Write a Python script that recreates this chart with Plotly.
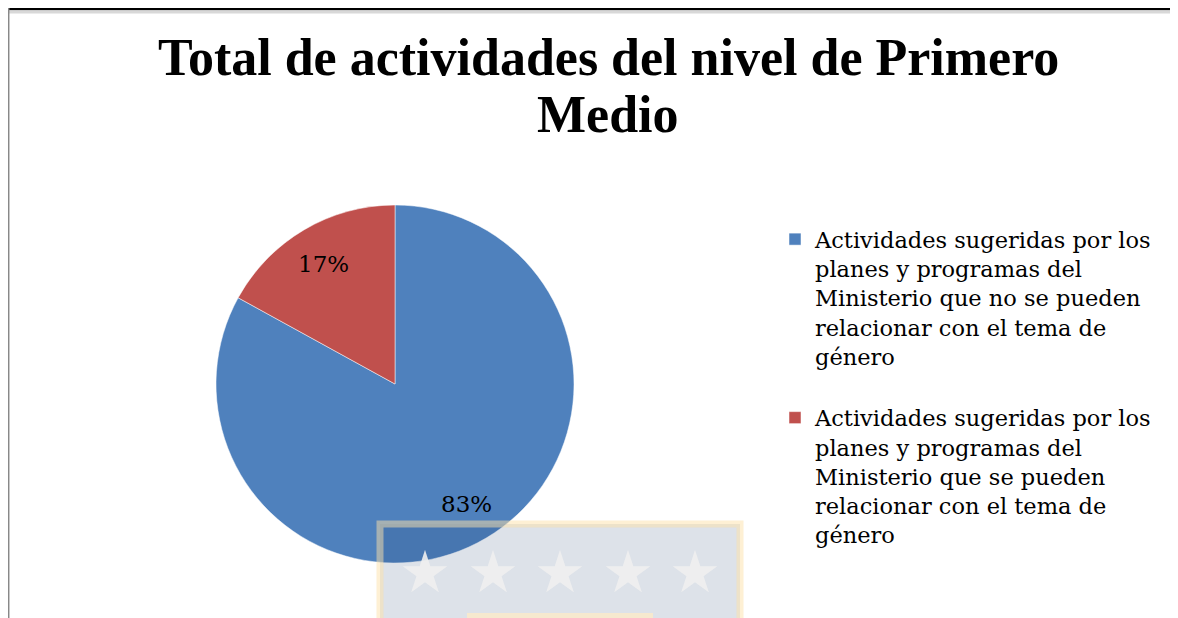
import math
import plotly.graph_objects as go

title_lines = ["Total de actividades del nivel de Primero", "Medio"]
labels = [
    "Actividades sugeridas por los<br>planes y programas del<br>Ministerio que no se pueden<br>relacionar con el tema de<br>género<br>",
    "Actividades sugeridas por los<br>planes y programas del<br>Ministerio que se pueden<br>relacionar con el tema de<br>género",
]
values = [83, 17]
colors = ["#4F81BD", "#C0504D"]

# the page adds an 8px body margin, so work in page pixels and convert
W, H = 1170, 610
OFF = 8


def px(x):
    return (x - OFF) / W


def py(y):
    return 1 - (y - OFF) / H


serif = "DejaVu Serif"

# pie geometry in page pixels
cx, cy, R = 395, 384, 179

fig = go.Figure()
fig.add_trace(
    go.Pie(
        labels=labels,
        values=values,
        marker=dict(colors=colors, line=dict(color="white", width=0.5)),
        sort=False,
        direction="clockwise",
        rotation=0,
        textinfo="none",
        hoverinfo="label+percent",
        domain=dict(x=[px(cx - R), px(cx + R)], y=[py(cy + R), py(cy - R)]),
    )
)

# percent labels, placed along each slice's mid angle like the Excel layout
total = sum(values)
start = 0.0
for v in values:
    mid = (start + v / 2) / total * 2 * math.pi
    start += v
    lx = cx + 0.78 * R * math.sin(mid)
    ly = cy - 0.78 * R * math.cos(mid)
    fig.add_annotation(text=f"{round(100 * v / total)}%", xref="paper", yref="paper",
                       x=px(lx), y=py(ly), xanchor="center", yanchor="middle", showarrow=False,
                       font=dict(family=serif, size=23, color="black"))

# title
for i, line in enumerate(title_lines):
    fig.add_annotation(text=f"<b>{line}</b>", xref="paper", yref="paper",
                       x=px(608), y=py(57 + 57 * i), xanchor="center", yanchor="middle",
                       showarrow=False,
                       font=dict(family="Liberation Serif", size=52, color="black"))

# chart frame (top and left edges)
fig.add_shape(type="line", xref="paper", yref="paper", x0=0, x1=1, y0=1 - 1 / H, y1=1 - 1 / H,
              line=dict(color="black", width=2.5))
fig.add_shape(type="line", xref="paper", yref="paper", x0=0, x1=1, y0=1 - 4 / H, y1=1 - 4 / H,
              line=dict(color="#d8d8d8", width=3))
fig.add_shape(type="line", xref="paper", yref="paper", x0=0.7 / W, x1=0.7 / W, y0=0, y1=1,
              line=dict(color="#888888", width=1.5))

# watermark logo in the page behind the chart
fig.add_shape(type="rect", xref="paper", yref="paper", layer="above",
              x0=px(380), x1=px(740), y0=-0.05, y1=py(524),
              fillcolor="rgba(30,60,110,0.15)", line=dict(color="rgba(253,225,170,0.5)", width=7))
fig.add_shape(type="rect", xref="paper", yref="paper", layer="above",
              x0=px(467), x1=px(653), y0=-0.05, y1=py(613),
              fillcolor="rgba(253,235,200,0.8)", line=dict(width=0))
for i in range(5):
    fig.add_annotation(text="★", xref="paper", yref="paper", x=px(425 + 67.5 * i), y=py(608),
                       xanchor="center", showarrow=False,
                       font=dict(family="DejaVu Sans", size=58, color="rgba(240,240,240,0.9)"))

fig.update_layout(
    width=W,
    height=H,
    margin=dict(l=0, r=0, t=0, b=0),
    paper_bgcolor="white",
    plot_bgcolor="white",
    legend=dict(
        x=px(775),
        y=py(218),
        xanchor="left",
        yanchor="top",
        valign="top",
        font=dict(family=serif, size=22.5, color="black"),
        itemwidth=30,
    ),
    showlegend=True,
)

fig.write_html("out.html")
